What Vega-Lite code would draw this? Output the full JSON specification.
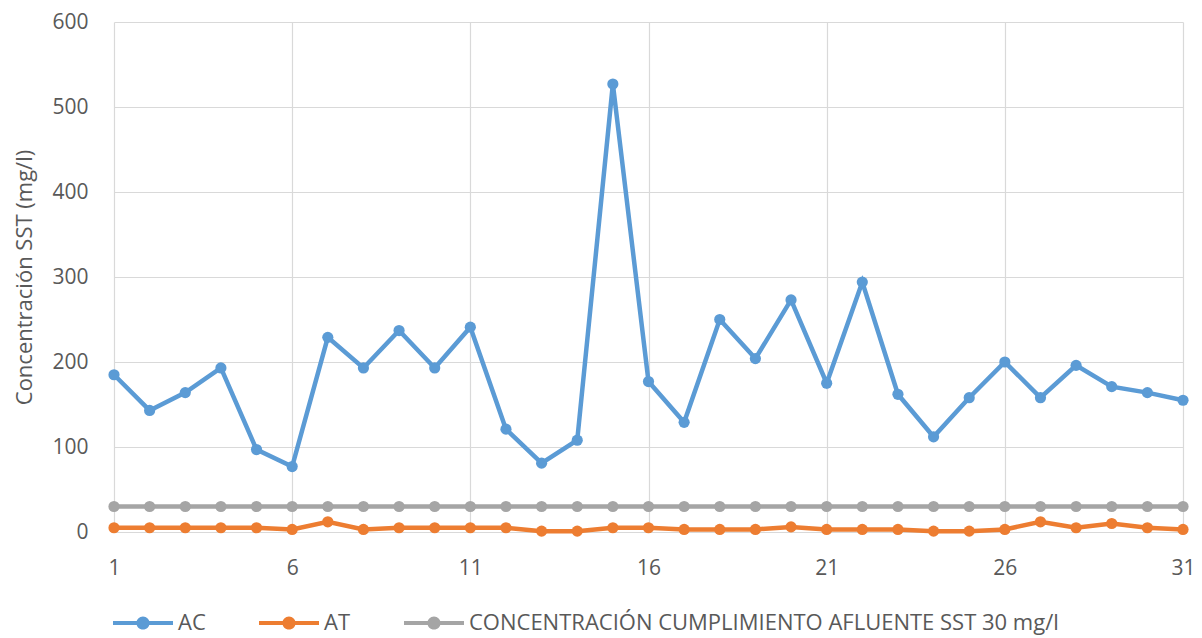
{
  "$schema": "https://vega.github.io/schema/vega-lite/v6.json",
  "autosize": {"type": "none"},
  "padding": {"left": 114, "top": 22, "right": 19, "bottom": 106},
  "width": 1069,
  "height": 510,
  "background": "white",
  "config": {
    "font": "Open Sans",
    "view": {"stroke": null},
    "axis": {
      "domain": false,
      "ticks": false,
      "tickSize": 0,
      "gridColor": "#D9D9D9",
      "gridWidth": 1.2,
      "labelColor": "#595959",
      "titleColor": "#595959",
      "labelFontSize": 21,
      "titleFontSize": 22,
      "titleFontWeight": "normal"
    }
  },
  "data": {
    "values": [
      {"dia": 1, "serie": "AC", "valor": 185}, {"dia": 2, "serie": "AC", "valor": 143}, {"dia": 3, "serie": "AC", "valor": 164},
      {"dia": 4, "serie": "AC", "valor": 193}, {"dia": 5, "serie": "AC", "valor": 97}, {"dia": 6, "serie": "AC", "valor": 77},
      {"dia": 7, "serie": "AC", "valor": 229}, {"dia": 8, "serie": "AC", "valor": 193}, {"dia": 9, "serie": "AC", "valor": 237},
      {"dia": 10, "serie": "AC", "valor": 193}, {"dia": 11, "serie": "AC", "valor": 241}, {"dia": 12, "serie": "AC", "valor": 121},
      {"dia": 13, "serie": "AC", "valor": 81}, {"dia": 14, "serie": "AC", "valor": 108}, {"dia": 15, "serie": "AC", "valor": 527},
      {"dia": 16, "serie": "AC", "valor": 177}, {"dia": 17, "serie": "AC", "valor": 129}, {"dia": 18, "serie": "AC", "valor": 250},
      {"dia": 19, "serie": "AC", "valor": 204}, {"dia": 20, "serie": "AC", "valor": 273}, {"dia": 21, "serie": "AC", "valor": 175},
      {"dia": 22, "serie": "AC", "valor": 294}, {"dia": 23, "serie": "AC", "valor": 162}, {"dia": 24, "serie": "AC", "valor": 112},
      {"dia": 25, "serie": "AC", "valor": 158}, {"dia": 26, "serie": "AC", "valor": 200}, {"dia": 27, "serie": "AC", "valor": 158},
      {"dia": 28, "serie": "AC", "valor": 196}, {"dia": 29, "serie": "AC", "valor": 171}, {"dia": 30, "serie": "AC", "valor": 164},
      {"dia": 31, "serie": "AC", "valor": 155},
      {"dia": 1, "serie": "AT", "valor": 5}, {"dia": 2, "serie": "AT", "valor": 5}, {"dia": 3, "serie": "AT", "valor": 5},
      {"dia": 4, "serie": "AT", "valor": 5}, {"dia": 5, "serie": "AT", "valor": 5}, {"dia": 6, "serie": "AT", "valor": 3},
      {"dia": 7, "serie": "AT", "valor": 12}, {"dia": 8, "serie": "AT", "valor": 3}, {"dia": 9, "serie": "AT", "valor": 5},
      {"dia": 10, "serie": "AT", "valor": 5}, {"dia": 11, "serie": "AT", "valor": 5}, {"dia": 12, "serie": "AT", "valor": 5},
      {"dia": 13, "serie": "AT", "valor": 1}, {"dia": 14, "serie": "AT", "valor": 1}, {"dia": 15, "serie": "AT", "valor": 5},
      {"dia": 16, "serie": "AT", "valor": 5}, {"dia": 17, "serie": "AT", "valor": 3}, {"dia": 18, "serie": "AT", "valor": 3},
      {"dia": 19, "serie": "AT", "valor": 3}, {"dia": 20, "serie": "AT", "valor": 6}, {"dia": 21, "serie": "AT", "valor": 3},
      {"dia": 22, "serie": "AT", "valor": 3}, {"dia": 23, "serie": "AT", "valor": 3}, {"dia": 24, "serie": "AT", "valor": 1},
      {"dia": 25, "serie": "AT", "valor": 1}, {"dia": 26, "serie": "AT", "valor": 3}, {"dia": 27, "serie": "AT", "valor": 12},
      {"dia": 28, "serie": "AT", "valor": 5}, {"dia": 29, "serie": "AT", "valor": 10}, {"dia": 30, "serie": "AT", "valor": 5},
      {"dia": 31, "serie": "AT", "valor": 3},
      {"dia": 1, "serie": "CONCENTRACIÓN CUMPLIMIENTO AFLUENTE SST 30 mg/l", "valor": 30},
      {"dia": 2, "serie": "CONCENTRACIÓN CUMPLIMIENTO AFLUENTE SST 30 mg/l", "valor": 30},
      {"dia": 3, "serie": "CONCENTRACIÓN CUMPLIMIENTO AFLUENTE SST 30 mg/l", "valor": 30},
      {"dia": 4, "serie": "CONCENTRACIÓN CUMPLIMIENTO AFLUENTE SST 30 mg/l", "valor": 30},
      {"dia": 5, "serie": "CONCENTRACIÓN CUMPLIMIENTO AFLUENTE SST 30 mg/l", "valor": 30},
      {"dia": 6, "serie": "CONCENTRACIÓN CUMPLIMIENTO AFLUENTE SST 30 mg/l", "valor": 30},
      {"dia": 7, "serie": "CONCENTRACIÓN CUMPLIMIENTO AFLUENTE SST 30 mg/l", "valor": 30},
      {"dia": 8, "serie": "CONCENTRACIÓN CUMPLIMIENTO AFLUENTE SST 30 mg/l", "valor": 30},
      {"dia": 9, "serie": "CONCENTRACIÓN CUMPLIMIENTO AFLUENTE SST 30 mg/l", "valor": 30},
      {"dia": 10, "serie": "CONCENTRACIÓN CUMPLIMIENTO AFLUENTE SST 30 mg/l", "valor": 30},
      {"dia": 11, "serie": "CONCENTRACIÓN CUMPLIMIENTO AFLUENTE SST 30 mg/l", "valor": 30},
      {"dia": 12, "serie": "CONCENTRACIÓN CUMPLIMIENTO AFLUENTE SST 30 mg/l", "valor": 30},
      {"dia": 13, "serie": "CONCENTRACIÓN CUMPLIMIENTO AFLUENTE SST 30 mg/l", "valor": 30},
      {"dia": 14, "serie": "CONCENTRACIÓN CUMPLIMIENTO AFLUENTE SST 30 mg/l", "valor": 30},
      {"dia": 15, "serie": "CONCENTRACIÓN CUMPLIMIENTO AFLUENTE SST 30 mg/l", "valor": 30},
      {"dia": 16, "serie": "CONCENTRACIÓN CUMPLIMIENTO AFLUENTE SST 30 mg/l", "valor": 30},
      {"dia": 17, "serie": "CONCENTRACIÓN CUMPLIMIENTO AFLUENTE SST 30 mg/l", "valor": 30},
      {"dia": 18, "serie": "CONCENTRACIÓN CUMPLIMIENTO AFLUENTE SST 30 mg/l", "valor": 30},
      {"dia": 19, "serie": "CONCENTRACIÓN CUMPLIMIENTO AFLUENTE SST 30 mg/l", "valor": 30},
      {"dia": 20, "serie": "CONCENTRACIÓN CUMPLIMIENTO AFLUENTE SST 30 mg/l", "valor": 30},
      {"dia": 21, "serie": "CONCENTRACIÓN CUMPLIMIENTO AFLUENTE SST 30 mg/l", "valor": 30},
      {"dia": 22, "serie": "CONCENTRACIÓN CUMPLIMIENTO AFLUENTE SST 30 mg/l", "valor": 30},
      {"dia": 23, "serie": "CONCENTRACIÓN CUMPLIMIENTO AFLUENTE SST 30 mg/l", "valor": 30},
      {"dia": 24, "serie": "CONCENTRACIÓN CUMPLIMIENTO AFLUENTE SST 30 mg/l", "valor": 30},
      {"dia": 25, "serie": "CONCENTRACIÓN CUMPLIMIENTO AFLUENTE SST 30 mg/l", "valor": 30},
      {"dia": 26, "serie": "CONCENTRACIÓN CUMPLIMIENTO AFLUENTE SST 30 mg/l", "valor": 30},
      {"dia": 27, "serie": "CONCENTRACIÓN CUMPLIMIENTO AFLUENTE SST 30 mg/l", "valor": 30},
      {"dia": 28, "serie": "CONCENTRACIÓN CUMPLIMIENTO AFLUENTE SST 30 mg/l", "valor": 30},
      {"dia": 29, "serie": "CONCENTRACIÓN CUMPLIMIENTO AFLUENTE SST 30 mg/l", "valor": 30},
      {"dia": 30, "serie": "CONCENTRACIÓN CUMPLIMIENTO AFLUENTE SST 30 mg/l", "valor": 30},
      {"dia": 31, "serie": "CONCENTRACIÓN CUMPLIMIENTO AFLUENTE SST 30 mg/l", "valor": 30}
    ]
  },
  "encoding": {
    "x": {
      "field": "dia",
      "type": "quantitative",
      "scale": {"domain": [1, 31], "nice": false, "zero": false},
      "axis": {"title": null, "values": [1, 6, 11, 16, 21, 26, 31], "grid": true, "labelPadding": 25, "labelFlush": false}
    },
    "y": {
      "field": "valor",
      "type": "quantitative",
      "scale": {"domain": [0, 600], "nice": false},
      "axis": {"title": "Concentración SST (mg/l)", "values": [0, 100, 200, 300, 400, 500, 600], "labelPadding": 26, "titlePadding": 15}
    },
    "color": {
      "field": "serie",
      "type": "nominal",
      "scale": {
        "domain": ["AC", "AT", "CONCENTRACIÓN CUMPLIMIENTO AFLUENTE SST 30 mg/l"],
        "range": ["#5B9BD5", "#ED7D31", "#A5A5A5"]
      },
      "legend": {
        "title": null,
        "orient": "none",
        "legendX": -1,
        "legendY": 571,
        "direction": "horizontal",
        "symbolType": "M -1 -0.07 L 1 -0.07 L 1 0.07 L -1 0.07 Z M 0.22 0 A 0.22 0.22 0 1 1 -0.22 0 A 0.22 0.22 0 1 1 0.22 0 Z",
        "symbolSize": 3600,
        "symbolStrokeWidth": 0,
        "symbolOpacity": 1,
        "labelFontSize": 22,
        "labelColor": "#595959",
        "labelOffset": 5,
        "columnPadding": 53,
        "labelLimit": 800
      }
    }
  },
  "layer": [
    {"mark": {"type": "line", "strokeWidth": 4.5}},
    {"mark": {"type": "point", "filled": true, "opacity": 1, "size": 125}}
  ]
}
